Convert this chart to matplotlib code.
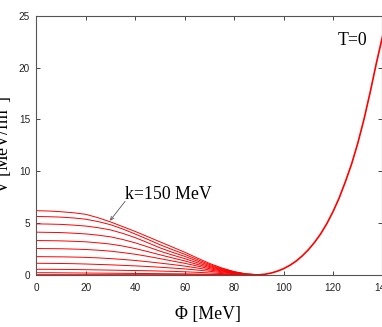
import matplotlib
matplotlib.use("Agg")
import matplotlib.pyplot as plt

# ---- data ----
phi_k = [0, 5, 10, 15, 20, 25, 30, 35, 40, 45, 50, 55, 60, 65, 70, 75, 80, 85, 90]
v_k1 = [6.20, 6.17, 6.10, 6.00, 5.85, 5.52, 5.12, 4.66, 4.20, 3.70, 3.20, 2.70, 2.20, 1.65, 1.12, 0.68, 0.33, 0.10, 0.03]
v_k2 = [5.64, 5.62, 5.58, 5.50, 5.38, 5.15, 4.85, 4.43, 3.95, 3.44, 2.92, 2.45, 2.00, 1.50, 1.02, 0.62, 0.30, 0.09, 0.03]
v_k3 = [4.93, 4.91, 4.88, 4.81, 4.72, 4.56, 4.35, 4.01, 3.60, 3.12, 2.62, 2.19, 1.80, 1.35, 0.92, 0.56, 0.27, 0.08, 0.03]
v_k4 = [4.13, 4.11, 4.09, 4.03, 3.96, 3.84, 3.68, 3.42, 3.10, 2.72, 2.30, 1.93, 1.58, 1.19, 0.82, 0.50, 0.24, 0.07, 0.03]
v_k5 = [3.32, 3.31, 3.29, 3.25, 3.20, 3.10, 2.98, 2.79, 2.55, 2.26, 1.95, 1.65, 1.36, 1.03, 0.72, 0.44, 0.21, 0.06, 0.03]
v_k6 = [2.55, 2.54, 2.53, 2.50, 2.46, 2.39, 2.30, 2.16, 2.00, 1.80, 1.58, 1.35, 1.13, 0.87, 0.61, 0.38, 0.18, 0.05, 0.03]
v_k7 = [1.77, 1.76, 1.75, 1.73, 1.70, 1.65, 1.58, 1.50, 1.40, 1.28, 1.15, 1.01, 0.86, 0.68, 0.49, 0.31, 0.15, 0.05, 0.03]
v_k8 = [1.13, 1.12, 1.11, 1.09, 1.06, 1.02, 0.98, 0.93, 0.88, 0.82, 0.75, 0.67, 0.59, 0.48, 0.36, 0.23, 0.12, 0.04, 0.03]
v_k9 = [0.55, 0.55, 0.54, 0.53, 0.51, 0.49, 0.47, 0.45, 0.43, 0.41, 0.38, 0.35, 0.31, 0.26, 0.20, 0.14, 0.08, 0.03, 0.03]
v_k10 = [0.22, 0.22, 0.21, 0.20, 0.19, 0.18, 0.17, 0.16, 0.15, 0.14, 0.13, 0.12, 0.11, 0.09, 0.07, 0.05, 0.03, 0.02, 0.03]

phi_main = [0, 85, 87.5, 90, 92.5, 95, 97.5, 100, 102.5, 105, 107.5, 110, 112.5,
            115, 117.5, 120, 122.5, 125, 127.5, 130, 132.5, 135, 137.5, 140]
v_main = [0.0, 0.0, 0.0, 0.015, 0.076, 0.19, 0.37, 0.61, 0.93, 1.33, 1.83, 2.43, 3.14,
          3.97, 4.96, 6.11, 7.44, 9.0, 10.7, 12.7, 15.0, 17.6, 20.4, 23.0]

x_ticks = [0, 20, 40, 60, 80, 100, 120, 140]
y_ticks = [0, 5, 10, 15, 20, 25]

k_curves = [v_k1, v_k2, v_k3, v_k4, v_k5, v_k6, v_k7, v_k8, v_k9, v_k10]

W, H = 382, 327
fig = plt.figure(figsize=(W / 100, H / 100), dpi=100)
ax = fig.add_axes([36.3 / W, (H - 275) / H, 346.2 / W, (275 - 15.7) / H])

for v in k_curves:
    ax.plot(phi_k, v, color="#ff0000", lw=0.7, solid_joinstyle="round")
ax.plot(phi_main, v_main, color="#ff0000", lw=1.2, solid_joinstyle="round")

ax.set_xlim(0, 140)
ax.set_ylim(0, 25)
ax.set_xticks(x_ticks)
ax.set_yticks(y_ticks)

tick_font = {"family": "Liberation Sans", "size": 7.2}
ax.set_xticklabels([str(t) for t in x_ticks], fontdict=tick_font, color="#222222")
ax.set_yticklabels([str(t) for t in y_ticks], fontdict=tick_font, color="#222222")
ax.tick_params(direction="in", top=True, right=True, length=3, width=0.7,
               color="#444444")
ax.tick_params(axis="x", pad=5.5)
ax.tick_params(axis="y", pad=4.5)
for s in ax.spines.values():
    s.set_color("#555555")
    s.set_linewidth(0.8)

serif = "Liberation Serif"
ax.text(36, 7.3, "k=150 MeV", family=serif, fontsize=12.8, ha="left", va="baseline")
ax.annotate("", xy=(29.8, 5.24), xytext=(35.9, 7.1),
            arrowprops=dict(arrowstyle="->", color="#555555", lw=0.6,
                            shrinkA=0, shrinkB=0, mutation_scale=6))
ax.text(121.7, 22.2, "T=0", family=serif, fontsize=12.8, ha="left", va="baseline")

fig.text(208 / W, 1 - 315 / H, "Φ [MeV]", family=serif, fontsize=12.8,
         ha="center", va="center")
fig.text(3 / W, 1 - 145 / H, r"V [MeV/fm$^3$]", family=serif, fontsize=12.8,
         ha="center", va="center", rotation=90, math_fontfamily="stix")

fig.savefig("out.png", dpi=100)
